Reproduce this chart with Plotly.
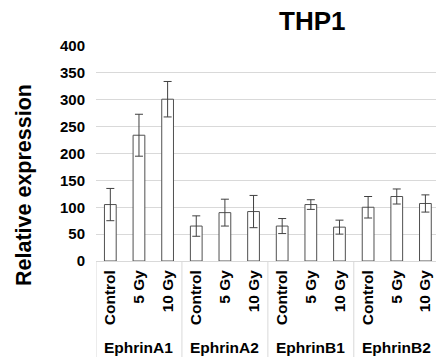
import plotly.graph_objects as go

groups = ["EphrinA1", "EphrinA2", "EphrinB1", "EphrinB2"]
doses = ["Control", "5 Gy", "10 Gy"]
values = [105, 234, 301, 65, 90, 92, 65, 105, 63, 100, 120, 107]
errors = [30, 39, 33, 19, 25, 30, 14, 9, 13, 20, 14, 16]
y_ticks = [0, 50, 100, 150, 200, 250, 300, 350, 400]

x_pos = list(range(len(values)))
tick_text = [doses[i % 3] for i in x_pos]

# pixel helpers for layout placement
L, R, T, B = 96, 0, 46, 99
W, H = 436, 360
pw, ph = W - L - R, H - T - B

def px_x(px):
    return (px - L) / pw

def px_y(py):
    return (H - B - py) / ph

fig = go.Figure()
fig.add_trace(go.Bar(
    x=x_pos, y=values, width=0.41,
    marker=dict(color="white", line=dict(color="#505050", width=1)),
    error_y=dict(type="data", array=errors, visible=True,
                 color="#404040", thickness=1, width=4),
    showlegend=False,
))

font_family = "Liberation Sans, Arial, sans-serif"

annotations = []
for gi, g in enumerate(groups):
    annotations.append(dict(
        x=gi * 3 + 1, y=px_y(347), xref="x", yref="paper",
        text="<b>%s</b>" % g, showarrow=False,
        font=dict(size=15.5, color="black", family=font_family),
        xanchor="center", yanchor="middle"))
annotations.append(dict(
    x=px_x(24), y=px_y(185), xref="paper", yref="paper",
    text="<b>Relative expression</b>", textangle=-90, showarrow=False,
    font=dict(size=21.5, color="black", family=font_family),
    xanchor="center", yanchor="middle"))
annotations.append(dict(
    x=px_x(312), y=px_y(21), xref="paper", yref="paper",
    text="<b>THP1</b>", showarrow=False,
    font=dict(size=26, color="black", family=font_family),
    xanchor="center", yanchor="middle"))

shapes = []
for xb in [-0.5, 2.5, 5.5, 8.5]:
    shapes.append(dict(type="line", xref="x", yref="paper",
                       x0=xb, x1=xb, y0=0, y1=px_y(357),
                       line=dict(color="#d9d9d9", width=1)))

fig.update_layout(
    width=W, height=H,
    margin=dict(l=L, r=R, t=T, b=B, pad=0),
    paper_bgcolor="white", plot_bgcolor="white",
    font=dict(family=font_family, color="black"),
    bargap=0.59,
    annotations=annotations,
    shapes=shapes,
    xaxis=dict(
        range=[-0.5, 11.37], tickmode="array", tickvals=x_pos,
        ticktext=["<b>%s</b>" % t for t in tick_text],
        tickangle=-90, tickfont=dict(size=15.5, color="black"),
        showgrid=False, zeroline=False, showline=False, ticks="",
        ticklabelstandoff=5,
    ),
    yaxis=dict(
        range=[0, 400], tickmode="array", tickvals=y_ticks,
        ticktext=["<b>%d</b>" % v for v in y_ticks],
        tickfont=dict(size=15, color="black"),
        showgrid=True, gridcolor="#d9d9d9", gridwidth=1,
        zeroline=True, zerolinecolor="#d9d9d9", zerolinewidth=1,
        showline=False, ticks="", ticklabelstandoff=10,
    ),
)

fig.write_html("out.html")
